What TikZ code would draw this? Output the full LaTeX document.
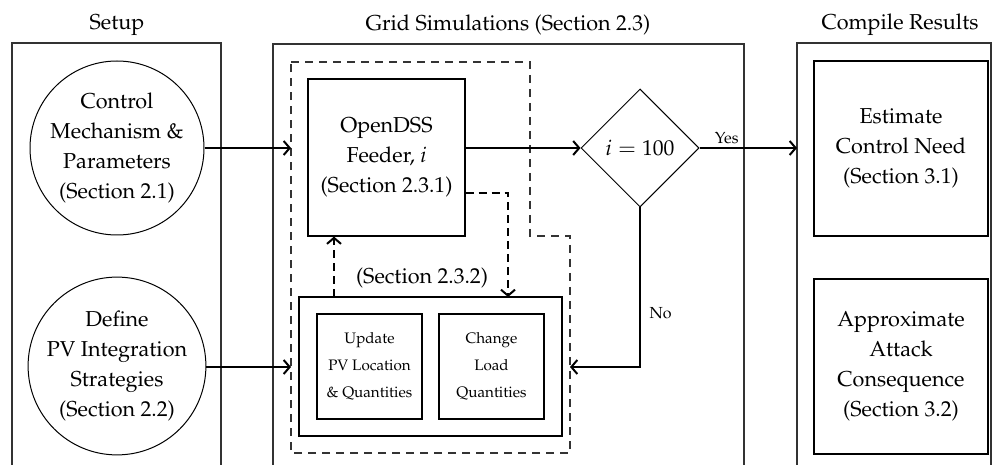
\documentclass[tikz,border=0pt]{standalone}
\usepackage[T1]{fontenc}
\usepackage{mathpazo}
\usetikzlibrary{arrows.meta,calc,positioning,shapes.geometric}

\tikzset{
  lane/.style={draw=black!80,line width=0.55pt},
  lanetitle/.style={font=\fontsize{10.8}{13}\selectfont},
  bigtext/.style={align=center,font=\fontsize{10.8}{15}\selectfont},
  smalltext/.style={align=center,font=\fontsize{7.6}{13.3}\selectfont},
  stagecircle/.style={circle,draw,line width=0.5pt,minimum size=87pt,inner sep=0pt,bigtext},
  stagebox/.style={draw,line width=0.55pt,inner sep=0pt,bigtext},
  flow/.style={line width=1pt,-{Straight Barb[length=3pt,width=7pt]}},
  loopflow/.style={flow,dash pattern=on 4pt off 2.5pt},
  edgelabel/.style={font=\fontsize{8}{9}\selectfont}
}

\begin{document}
\begin{tikzpicture}[x=0.5pt,y=-0.5pt]
\useasboundingbox (0,0) rectangle (992,465);

% three lanes, open at the bottom
\draw[lane] (12,465) -- (12,43) -- (221,43) -- (221,465);
\draw[lane] (273,465) -- (273,44) -- (744,44) -- (744,465);
\draw[lane] (797,465) -- (797,43) -- (991,43) -- (991,465);
\node[lanetitle] (setuptitle) at (117,25) {Setup};
\node[lanetitle] (gridtitle) at (508,25) {Grid Simulations (Section 2.3)};
\node[lanetitle] (compiletitle) at (900,25) {Compile Results};

% setup stage
\node[stagecircle] (control) at (117,148) {Control\\Mechanism \&\\Parameters\\(Section 2.1)};
\node[stagecircle] (pvdefine) at (117,366) {Define\\PV Integration\\Strategies\\(Section 2.2)};

% simulation loop
\draw[lane,dash pattern=on 4pt off 3pt] (291,62) -- (530,62) -- (530,236) -- (570,236) -- (570,453) -- (291,453) -- cycle;
\node[stagebox,minimum width=78.5pt,minimum height=78.5pt] (feeder) at (386.5,157.5) {OpenDSS\\Feeder, \textit{i}\\(Section 2.3.1)};
\node[diamond,draw,line width=0.5pt,minimum width=59pt,minimum height=59pt,inner sep=0pt,bigtext] (check) at (640,148) {$i = 100$};
\node[draw,line width=0.7pt,minimum width=131.5pt,minimum height=69.5pt] (update) at (430.5,366.5) {};
\node[stagebox,smalltext,minimum width=52.5pt,minimum height=52.5pt] (pvupdate) at (369.5,366.5) {Update\\PV Location\\\& Quantities};
\node[stagebox,smalltext,minimum width=52.5pt,minimum height=52.5pt] (loadchange) at (491.5,366.5) {Change\\Load\\Quantities};
\node[bigtext] (updatelabel) at (422,278) {(Section 2.3.2)};

% results
\node[stagebox,minimum width=87pt,minimum height=87.5pt] (estimate) at (901,148.5) {Estimate\\Control Need\\(Section 3.1)};
\node[stagebox,minimum width=87pt,minimum height=87.5pt] (consequence) at (901,366.5) {Approximate\\Attack\\Consequence\\(Section 3.2)};

\coordinate (loopin1) at (291,148);
\coordinate (loopin2) at (291,367);
\coordinate (loopback) at (570,367);
\coordinate (resultsin) at (797,148);
\coordinate (loadin) at (508,297);
\coordinate (pvout) at (334,297);

\draw[flow] (control) -- (loopin1);
\draw[flow] (pvdefine.east |- loopin2) -- (loopin2);
\draw[flow] (feeder.east |- check.west) -- (check.west);
\draw[flow] (check.east) -- node[edgelabel,above,pos=0.28,inner sep=1.5pt] {Yes} (resultsin);
\draw[flow] (check.south) |- node[edgelabel,right,pos=0.33,xshift=1pt] {No} (loopback);
\draw[loopflow] ([yshift=22pt]feeder.south east) -| (loadin);
\draw[loopflow] (pvout) -- (pvout |- feeder.south);
\end{tikzpicture}
\end{document}
